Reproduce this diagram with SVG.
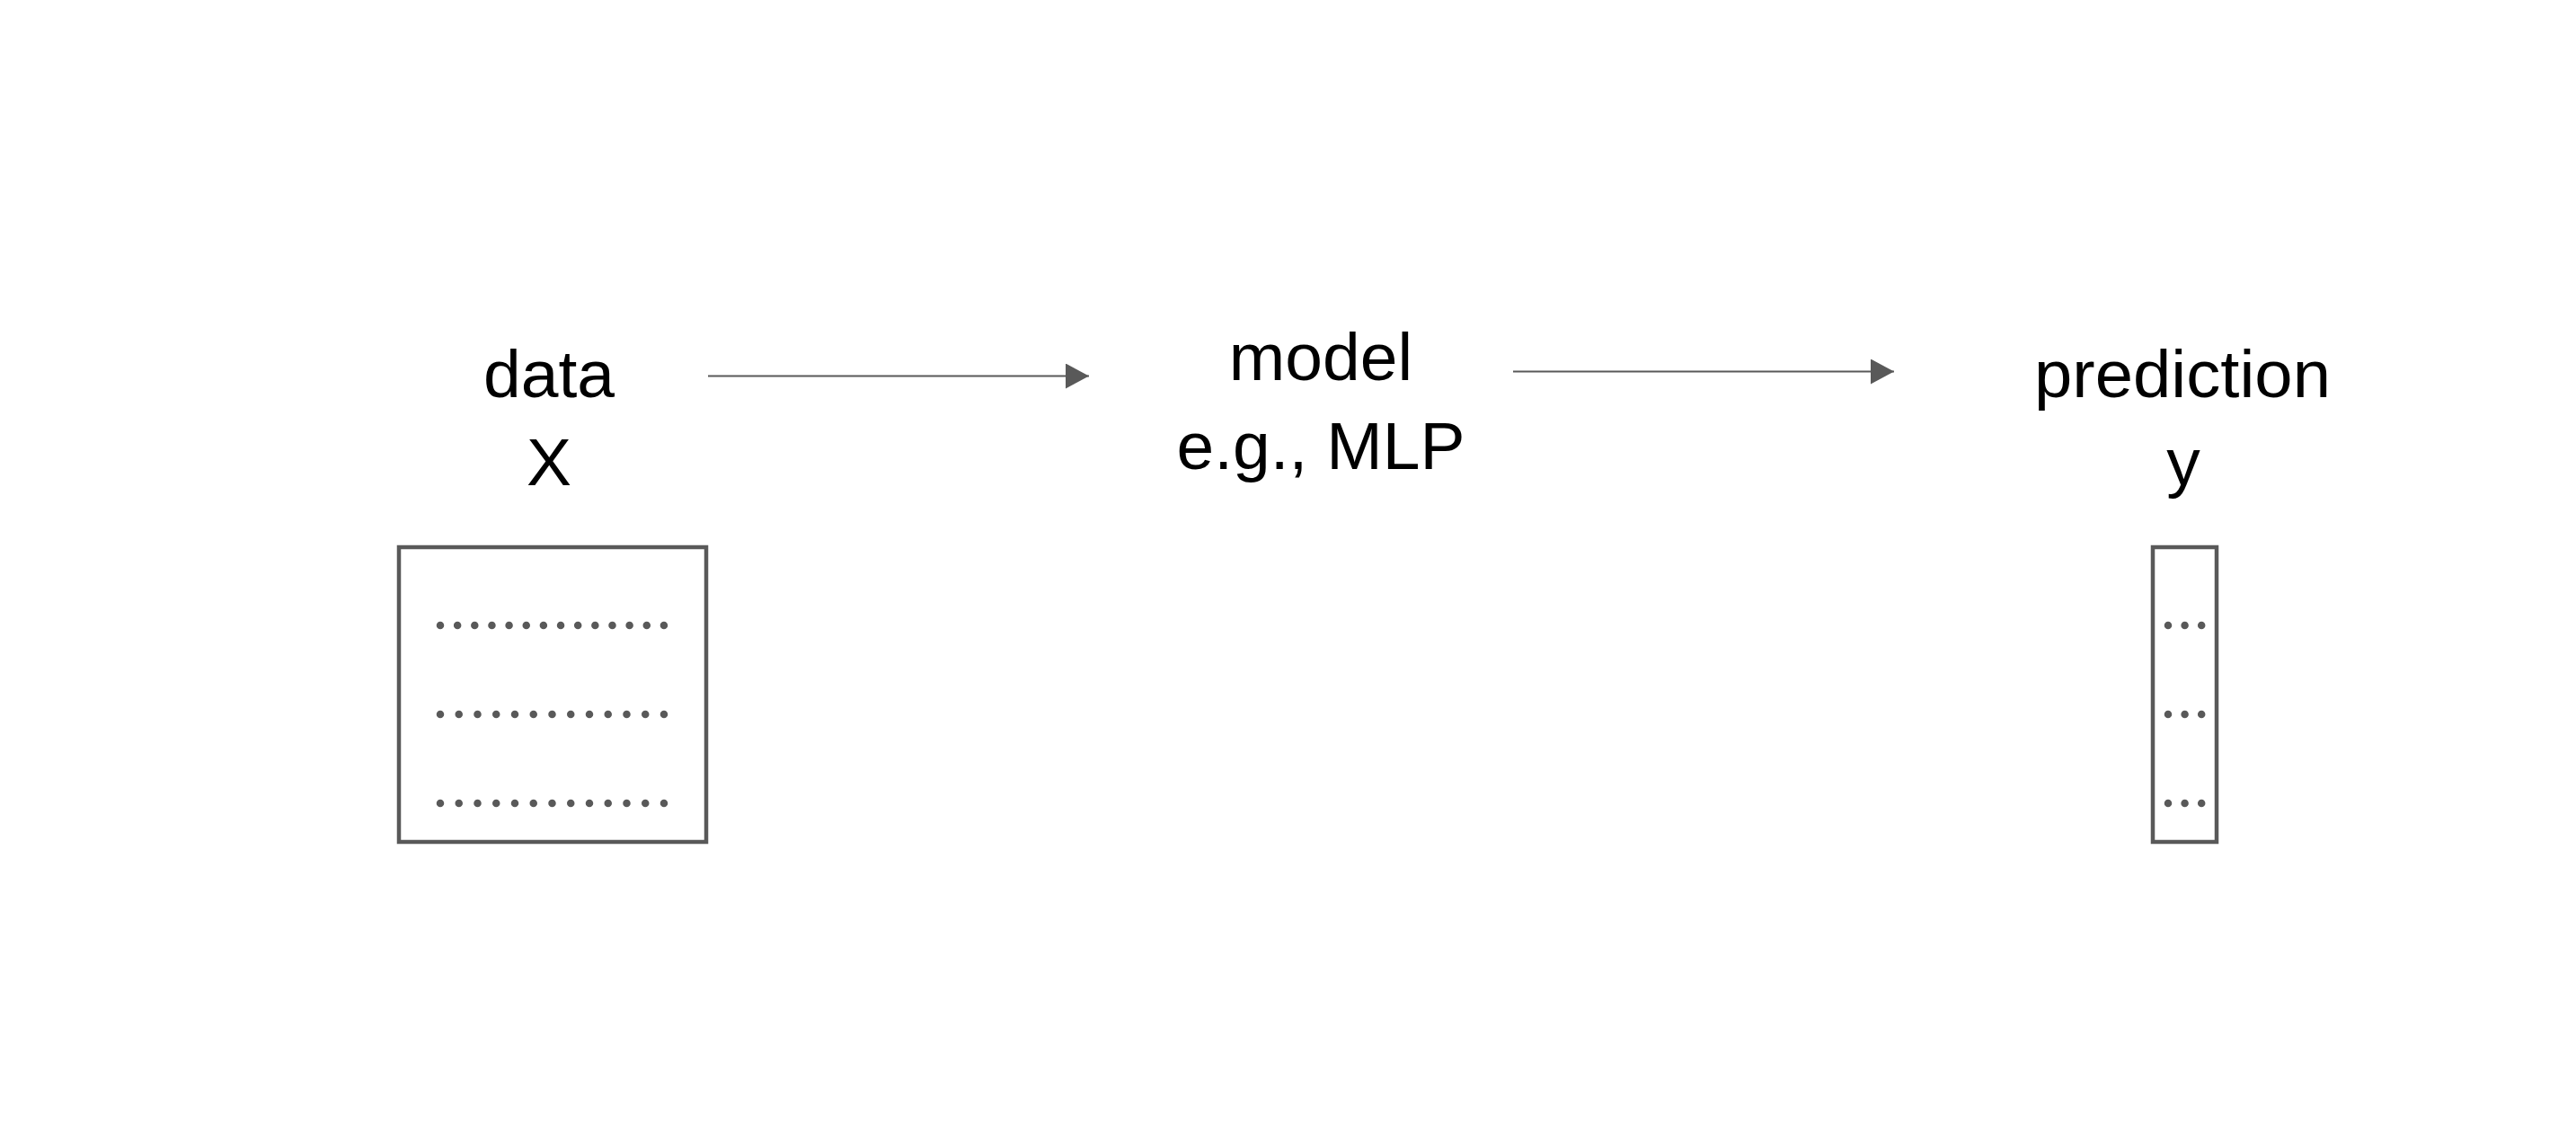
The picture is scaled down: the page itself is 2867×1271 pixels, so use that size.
<svg xmlns="http://www.w3.org/2000/svg" width="2867" height="1271" viewBox="0 0 2867 1271">
<style>
.lbl{font-family:"Liberation Sans",Arial,sans-serif;font-size:75px;fill:#000;text-anchor:middle}
.box{fill:#fff;stroke:#595959;stroke-width:4.5}
.dots{stroke:#595959;stroke-width:8.5;stroke-linecap:round;fill:none}
.conn{stroke:#595959;stroke-width:2.2;fill:none}
</style>
<defs>
<marker id="ah" markerUnits="userSpaceOnUse" markerWidth="26" markerHeight="28" refX="26" refY="14" orient="auto">
<path d="M0,0 L26,14 L0,28 Z" fill="#595959"/>
</marker>
</defs>
<rect width="2867" height="1271" fill="#fff"/>
<g id="connectors">
<line class="conn" x1="788" y1="418.5" x2="1212" y2="418.5" marker-end="url(#ah)"/>
<line class="conn" x1="1684" y1="413.5" x2="2108" y2="413.5" marker-end="url(#ah)"/>
</g>
<g id="node-data">
<text class="lbl" x="611" y="442">data</text>
<text class="lbl" x="611" y="540">X</text>
<rect class="box" x="444" y="609" width="342" height="328"/>
<line class="dots" x1="490" y1="696" x2="740" y2="696" stroke-dasharray="0 19.15"/>
<line class="dots" x1="490" y1="795" x2="740" y2="795" stroke-dasharray="0 20.75"/>
<line class="dots" x1="490" y1="894" x2="740" y2="894" stroke-dasharray="0 20.75"/>
</g>
<g id="node-model">
<text class="lbl" x="1470" y="423">model</text>
<text class="lbl" x="1470" y="522">e.g., MLP</text>
</g>
<g id="node-prediction">
<text class="lbl" x="2429" y="442" textLength="330" lengthAdjust="spacingAndGlyphs">prediction</text>
<text class="lbl" x="2430" y="540">y</text>
<rect class="box" x="2396" y="609" width="71" height="328"/>
<line class="dots" x1="2413" y1="696" x2="2451" y2="696" stroke-dasharray="0 18.6"/>
<line class="dots" x1="2413" y1="795" x2="2451" y2="795" stroke-dasharray="0 18.6"/>
<line class="dots" x1="2413" y1="894" x2="2451" y2="894" stroke-dasharray="0 18.6"/>
</g>
</svg>
